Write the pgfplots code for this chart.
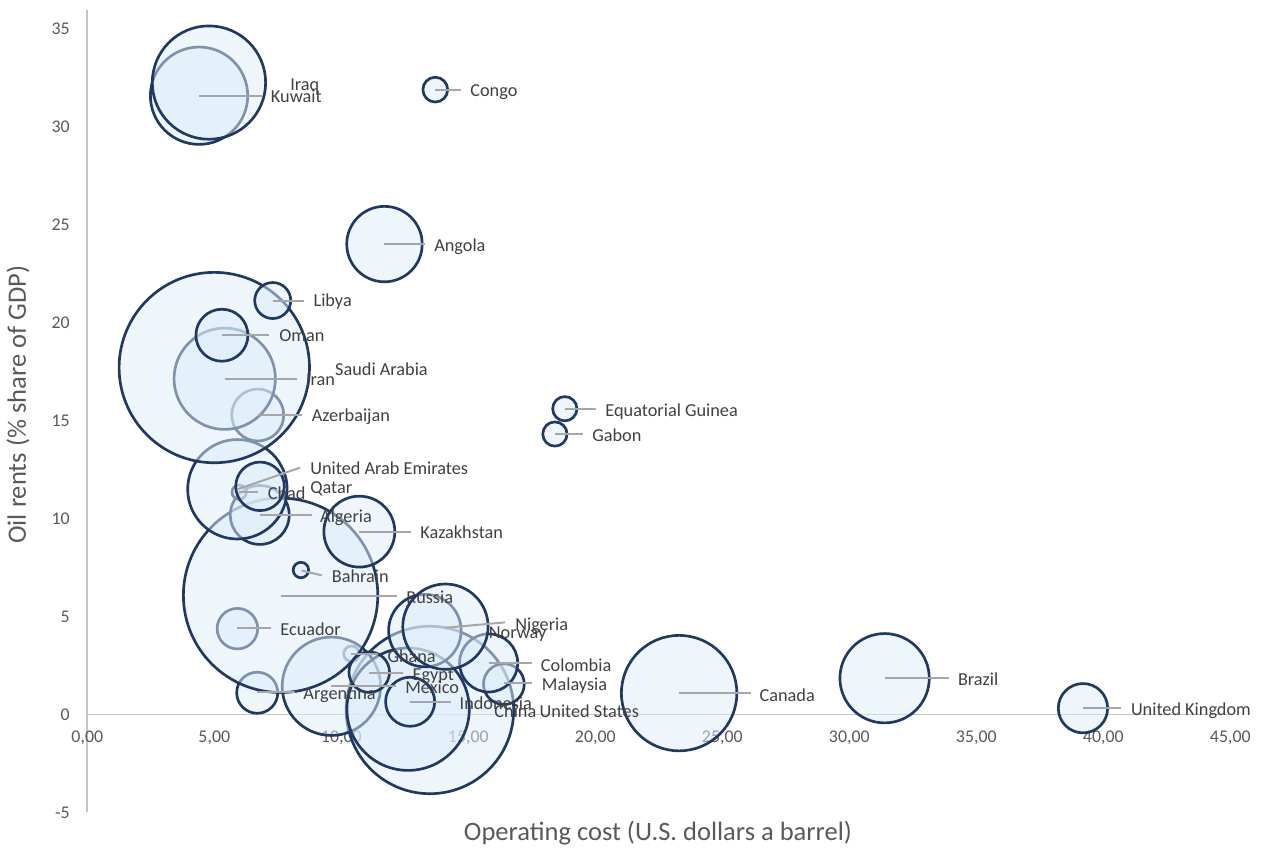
\documentclass[border=0pt]{standalone}
\usepackage{fontspec}
\setmainfont{Carlito}
\usepackage{pgfplots}
\usepackage{pgfplotstable}
\pgfplotsset{compat=1.18}
\definecolor{bnavy}{HTML}{1F3864}
\definecolor{bfill}{HTML}{DDEDF9}
\definecolor{leadgray}{HTML}{A6A6A6}
\definecolor{labtext}{HTML}{404040}
\definecolor{ticktext}{HTML}{595959}
\definecolor{axisgray}{HTML}{C4C4C4}

% x = operating cost, y = oil rents, s = bubble radius (pt)
\pgfplotstableread{
x     y      s
4.40  31.57  36.5
4.79  32.24  42.5
13.70 31.88  9.3
11.70 24.00  28.3
13.49 0.23   62.8
5.91  4.38   15.2
6.69  1.11   15.4
10.40 3.10   5.8
9.61  1.44   36.9
7.61  6.08   72.9
6.79  10.18  22.1
5.98  11.34  5.4
5.91  11.49  37.3
6.71  15.28  19.5
5.41  17.13  38.0
5.00  17.70  71.4
5.30  19.35  19.5
7.30  21.12  13.5
6.80  11.64  18.2
10.71 9.33   26.6
8.41  7.37   5.8
12.63 0.27   45.9
11.10 2.16   15.2
12.71 0.65   18.4
13.29 4.28   27.2
16.40 1.55   15.3
15.80 2.63   21.8
14.10 4.48   32.0
18.80 15.60  9.1
18.41 14.31  9.1
23.30 1.09   43.3
31.39 1.85   33.5
39.20 0.32   18.5
}\bubbles

\tikzset{lbl/.style={anchor=west, inner sep=0pt, text=labtext,
  font=\fontsize{13.7}{16}\selectfont, text height=10.3pt, text depth=1.2pt}}
\newcommand{\lead}[7]{\draw[leadgray, line width=1.5pt] (axis cs:#1,#2) -- (axis cs:#3,#4); \node[lbl] at (axis cs:#5,#6) {#7};}
\newcommand{\lab}[3]{\node[lbl] at (axis cs:#1,#2) {#3};}

\begin{document}
\begin{tikzpicture}
\begin{axis}[
  set layers=standard,
  x=19.05pt, y=14.7pt,
  xmin=0, xmax=45, ymin=-5, ymax=35.95,
  axis x line=middle, axis y line=left,
  axis line style={-, draw=axisgray, line width=1.2pt},
  major tick length=0pt,
  hide obscured x ticks=false, hide obscured y ticks=false,
  xtick={0,5,...,45},
  xticklabels={{0,00},{5,00},{10,00},{15,00},{20,00},{25,00},{30,00},{35,00},{40,00},{45,00}},
  ytick={-5,0,5,10,15,20,25,30,35},
  yticklabels={-5,0,5,10,15,20,25,30,35},
  xticklabel style={anchor=center, inner sep=0pt, yshift=-17.5pt, text=ticktext, font=\fontsize{13.4}{16}\selectfont},
  yticklabel style={anchor=east, inner sep=0pt, xshift=-13pt, text=ticktext, font=\fontsize{13.4}{16}\selectfont},
  xlabel={Operating cost (U.S. dollars a barrel)},
  ylabel={Oil rents (\% share of GDP)},
  every axis x label/.style={at={(axis description cs:0.4993,-0.0255)}, anchor=center, text=ticktext, font=\fontsize{19.9}{24}\selectfont},
  every axis y label/.style={at={(axis description cs:-0.0606,0.508)}, anchor=center, rotate=90, text=ticktext, font=\fontsize{19.9}{24}\selectfont},
  clip=false,
]
\addplot[scatter, only marks, mark=*,
  scatter/use mapped color={draw=bnavy, fill=bfill},
  mark options={line width=2pt, fill opacity=0.5, draw opacity=1},
  visualization depends on={\thisrow{s} \as \msize},
  scatter/@pre marker code/.append style={/tikz/mark size=\msize pt},
] table[x=x, y=y] {\bubbles};

\coordinate (BL) at (axis cs:0,-5);

\begin{pgfonlayer}{axis foreground}
\lab{7.98}{32.12}{Iraq}
\lead{4.40}{31.57}{6.88}{31.57}{7.22}{31.52}{Kuwait}
\lead{13.70}{31.88}{14.71}{31.88}{15.07}{31.86}{Congo}
\lead{11.70}{24.00}{13.30}{24.00}{13.65}{23.95}{Angola}
\lead{7.30}{21.12}{8.53}{21.12}{8.90}{21.11}{Libya}
\lead{5.30}{19.35}{7.17}{19.35}{7.55}{19.35}{Oman}
\lead{5.41}{17.13}{8.24}{17.13}{8.60}{17.12}{Iran}
\lab{9.75}{17.61}{Saudi Arabia}
\lead{6.71}{15.28}{8.46}{15.28}{8.83}{15.26}{Azerbaijan}
\lead{5.91}{11.49}{8.37}{12.59}{8.77}{12.56}{United Arab Emirates}
\lab{8.77}{11.57}{Qatar}
\lead{5.98}{11.34}{6.73}{11.34}{7.10}{11.29}{Chad}
\lead{6.79}{10.18}{8.83}{10.18}{9.16}{10.09}{Algeria}
\lead{10.71}{9.33}{12.73}{9.33}{13.10}{9.31}{Kazakhstan}
\lead{8.44}{7.34}{9.23}{7.10}{9.62}{7.03}{Bahrain}
\lead{7.61}{6.05}{12.18}{6.05}{12.55}{5.96}{Russia}
\lead{5.91}{4.41}{7.23}{4.41}{7.59}{4.36}{Ecuador}
\lead{6.69}{1.13}{8.18}{1.13}{8.50}{1.06}{Argentina}
\lead{10.40}{3.10}{11.44}{3.10}{11.81}{2.98}{Ghana}
\lead{11.10}{2.14}{12.44}{2.14}{12.80}{2.02}{Egypt}
\lead{9.61}{1.47}{12.15}{1.47}{12.51}{1.37}{Mexico}
\lead{12.71}{0.65}{14.31}{0.65}{14.65}{0.55}{Indonesia}
\lab{16.02}{0.14}{China}
\lab{17.80}{0.14}{United States}
\lead{14.12}{4.43}{16.45}{4.70}{16.84}{4.60}{Nigeria}
\lab{15.80}{4.19}{Norway}
\lead{15.80}{2.61}{17.50}{2.61}{17.85}{2.52}{Colombia}
\lead{16.40}{1.60}{17.52}{1.60}{17.89}{1.51}{Malaysia}
\lead{23.30}{1.08}{26.12}{1.08}{26.46}{0.99}{Canada}
\lead{31.39}{1.85}{33.92}{1.85}{34.27}{1.80}{Brazil}
\lead{18.80}{15.59}{20.03}{15.59}{20.39}{15.50}{Equatorial Guinea}
\lead{18.41}{14.31}{19.53}{14.31}{19.87}{14.22}{Gabon}
\lead{39.20}{0.33}{40.69}{0.33}{41.08}{0.24}{United Kingdom}
\end{pgfonlayer}
\end{axis}
\pgfresetboundingbox
\path ([shift={(-65.475pt,-26.625pt)}]BL) rectangle ([shift={(880.275pt,609.375pt)}]BL);
\end{tikzpicture}
\end{document}
